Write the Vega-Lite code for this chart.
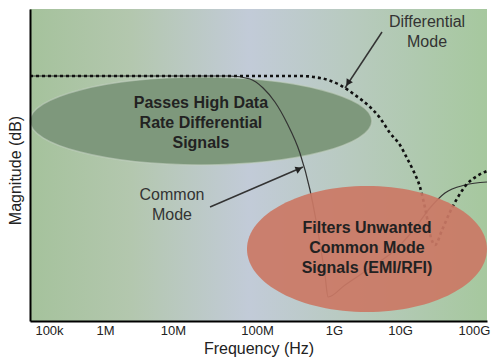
{
  "$schema": "https://vega.github.io/schema/vega-lite/v6.json",
  "width": 457,
  "height": 312,
  "autosize": {"type": "none"},
  "padding": {"left": 30, "top": 9, "right": 13, "bottom": 41},
  "background": "white",
  "config": {"view": {"stroke": null}, "font": "Liberation Sans"},
  "datasets": {
    "bg": [{"f": 45804, "f2": 149850000000, "db": 16.75, "db2": -61.25}],
    "ellipses": [
      {"name": "pass", "f": 21500000, "db": -11.25},
      {"name": "filter", "f": 3160000000, "db": -43.25}
    ],
    "common": [
      {"f": 45804, "db": 0}, {"f": 47700000, "db": 0}, {"f": 82600000, "db": -0.75},
      {"f": 120000000, "db": -3}, {"f": 171000000, "db": -6.5}, {"f": 245000000, "db": -11.75},
      {"f": 361000000, "db": -19.25}, {"f": 488000000, "db": -28.5}, {"f": 583000000, "db": -36},
      {"f": 678000000, "db": -43.5}, {"f": 764000000, "db": -49.75}, {"f": 836000000, "db": -55.25},
      {"f": 1470000000, "db": -52.25}, {"f": 3510000000, "db": -48}, {"f": 8400000000, "db": -43.5},
      {"f": 16000000000, "db": -38}, {"f": 25400000000, "db": -33}, {"f": 40500000000, "db": -29.25},
      {"f": 75500000000, "db": -27.25}, {"f": 149850000000, "db": -26.5}
    ],
    "diff": [
      {"f": 45804, "db": 0}, {"f": 361000000, "db": 0}, {"f": 658000000, "db": -0.5},
      {"f": 1230000000, "db": -2.25}, {"f": 2080000000, "db": -4.75}, {"f": 3510000000, "db": -7.75},
      {"f": 4980000000, "db": -10.5}, {"f": 7050000000, "db": -14.25}, {"f": 10000000000, "db": -17.25},
      {"f": 12400000000, "db": -20.5}, {"f": 15000000000, "db": -23.5}, {"f": 18600000000, "db": -27.75},
      {"f": 22400000000, "db": -34}, {"f": 26300000000, "db": -40.5}, {"f": 29700000000, "db": -42.25},
      {"f": 37000000000, "db": -38.5}, {"f": 47400000000, "db": -34}, {"f": 60800000000, "db": -30.25},
      {"f": 80400000000, "db": -27}, {"f": 110000000000, "db": -25}, {"f": 149850000000, "db": -23.75}
    ],
    "arrows": [
      {"f": 5340000000, "db": 11, "f2": 1470000000, "db2": -3},
      {"f": 27600000, "db": -32.75, "f2": 395000000, "db2": -22.75}
    ],
    "boldText": [
      {"t": "Passes High Data", "f": 21500000, "db": -6.75},
      {"t": "Rate Differential", "f": 21500000, "db": -11.75},
      {"t": "Signals", "f": 21500000, "db": -16.75},
      {"t": "Filters Unwanted", "f": 3160000000, "db": -38},
      {"t": "Common Mode", "f": 3160000000, "db": -43},
      {"t": "Signals (EMI/RFI)", "f": 3160000000, "db": -48}
    ],
    "notes": [
      {"t": "Common", "f": 9660000, "db": -29.75},
      {"t": "Mode", "f": 9660000, "db": -34.75},
      {"t": "Differential", "f": 23200000000, "db": 13.5},
      {"t": "Mode", "f": 23200000000, "db": 8.5}
    ]
  },
  "encoding": {
    "x": {
      "field": "f", "type": "quantitative",
      "scale": {
        "type": "log", "nice": false,
        "domain": [45804, 100000, 1000000, 10000000, 100000000, 1000000000, 10000000000, 100000000000, 149850000000],
        "range": [0, 19, 75, 143, 227, 304, 370, 444, 457]
      },
      "axis": {
        "values": [100000, 1000000, 10000000, 100000000, 1000000000, 10000000000, 100000000000],
        "labelExpr": "datum.value < 5e5 ? '100k' : datum.value < 5e6 ? '1M' : datum.value < 5e7 ? '10M' : datum.value < 5e8 ? '100M' : datum.value < 5e9 ? '1G' : datum.value < 5e10 ? '10G' : '100G'",
        "ticks": false, "grid": false, "domainColor": "#000", "domainWidth": 2,
        "labelFontSize": 13, "labelColor": "#222", "labelPadding": 3,
        "labelFlush": false, "labelOverlap": false, "labelBound": false,
        "title": "Frequency (Hz)", "titleFontSize": 16, "titleFontWeight": "normal",
        "titleColor": "#222", "titlePadding": 3, "zindex": 1
      }
    },
    "y": {
      "field": "db", "type": "quantitative",
      "scale": {"domain": [-61.25, 16.75], "nice": false, "zero": false},
      "axis": {
        "labels": false, "ticks": false, "grid": false, "domainColor": "#000", "domainWidth": 2,
        "title": "Magnitude (dB)", "titleFontSize": 16, "titleFontWeight": "normal",
        "titleColor": "#222", "titlePadding": 7, "titleY": 161, "zindex": 1
      }
    }
  },
  "layer": [
    {
      "data": {"name": "bg"},
      "mark": {
        "type": "rect",
        "fill": {
          "gradient": "linear", "x1": 0, "x2": 1, "y1": 0, "y2": 0,
          "stops": [
            {"offset": 0, "color": "#a5c29c"},
            {"offset": 0.22, "color": "#b3c7ae"},
            {"offset": 0.48, "color": "#c2cbd8"},
            {"offset": 0.72, "color": "#b7cabd"},
            {"offset": 1, "color": "#a6c89e"}
          ]
        }
      },
      "encoding": {"x2": {"field": "f2"}, "y2": {"field": "db2"}}
    },
    {
      "data": {"name": "ellipses"},
      "transform": [{"filter": "datum.name === 'pass'"}],
      "mark": {
        "type": "point", "filled": true, "color": "#7e987c", "opacity": 1,
        "stroke": "#c3d0c1", "strokeWidth": 1.5, "strokeOpacity": 0.6,
        "size": 116964,
        "shape": "M-1,0A1,0.257,0,1,1,1,0A1,0.257,0,1,1,-1,0Z"
      }
    },
    {
      "data": {"name": "common"},
      "mark": {"type": "line", "color": "#333", "strokeWidth": 1.2, "interpolate": "monotone"}
    },
    {
      "data": {"name": "diff"},
      "mark": {"type": "line", "color": "#111", "strokeWidth": 2.6, "strokeDash": [3, 3], "interpolate": "monotone"}
    },
    {
      "data": {"name": "ellipses"},
      "transform": [{"filter": "datum.name === 'filter'"}],
      "mark": {
        "type": "point", "filled": true, "color": "#cb7865", "opacity": 0.92,
        "size": 57600, "clip": true,
        "shape": "M-1,0A1,0.525,0,1,1,1,0A1,0.525,0,1,1,-1,0Z"
      }
    },
    {
      "data": {"name": "arrows"},
      "mark": {"type": "rule", "color": "#333", "strokeWidth": 1.5},
      "encoding": {"x2": {"field": "f2"}, "y2": {"field": "db2"}}
    },
    {
      "data": {"values": [{"f": 1630000000, "db": -1.75}]},
      "mark": {"type": "point", "shape": "triangle-up", "filled": true, "color": "#222", "size": 55, "angle": 213.5, "opacity": 1}
    },
    {
      "data": {"values": [{"f": 351000000, "db": -23.25}]},
      "mark": {"type": "point", "shape": "triangle-up", "filled": true, "color": "#222", "size": 55, "angle": 66.7, "opacity": 1}
    },
    {
      "data": {"name": "boldText"},
      "mark": {"type": "text", "fontSize": 16, "fontWeight": "bold", "color": "#222", "align": "center", "baseline": "middle"},
      "encoding": {"text": {"field": "t"}}
    },
    {
      "data": {"name": "notes"},
      "mark": {"type": "text", "fontSize": 16, "color": "#333", "align": "center", "baseline": "middle"},
      "encoding": {"text": {"field": "t"}}
    }
  ]
}
